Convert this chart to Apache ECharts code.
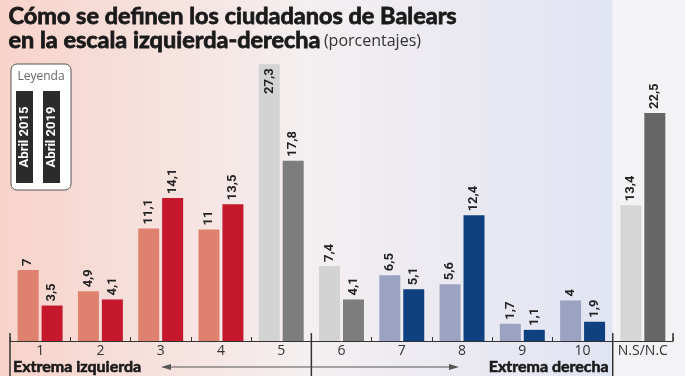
<!DOCTYPE html>
<html>
<head>
<meta charset="utf-8">
<script src="https://cdn.jsdelivr.net/npm/echarts@6/dist/echarts.min.js"></script>
<style>
  html, body { margin: 0; padding: 0; }
  #main { width: 685px; height: 376px; }
</style>
</head>
<body>
<div id="main"></div>
<script>
var categories = ['1', '2', '3', '4', '5', '6', '7', '8', '9', '10', 'N.S/N.C'];
var abril2015 = [7, 4.9, 11.1, 11, 27.3, 7.4, 6.5, 5.6, 1.7, 4, 13.4];
var abril2019 = [3.5, 4.1, 14.1, 13.5, 17.8, 4.1, 5.1, 12.4, 1.1, 1.9, 22.5];

// colores por grupo (izquierda / centro / derecha / ns)
var colors2015 = ['#de826f', '#de826f', '#de826f', '#de826f', '#d3d3d3', '#d3d3d3',
                  '#9ca2c1', '#9ca2c1', '#9ca2c1', '#9ca2c1', '#d6d6d6'];
var colors2019 = ['#c5182c', '#c5182c', '#c5182c', '#c5182c', '#7d7d7d', '#7d7d7d',
                  '#0f4080', '#0f4080', '#0f4080', '#0f4080', '#666666'];

var fmt = function (p) { return String(p.value).replace('.', ','); };

function items(values, colors) {
    return values.map(function (v, i) {
        var it = { value: v, itemStyle: { color: colors[i] } };
        if (v > 25) {
            it.label = { position: 'insideTop', align: 'right', distance: 4 };
        }
        return it;
    });
}

var labelStyle = {
    show: true,
    position: 'top',
    rotate: 90,
    align: 'left',
    verticalAlign: 'middle',
    distance: 4,
    fontFamily: 'Roboto',
    fontWeight: 'bold',
    fontSize: 13,
    color: '#222',
    formatter: fmt
};

var heavy = { fontFamily: 'Lato', fontWeight: 'bold', fill: '#1a1a1a', stroke: '#1a1a1a', lineWidth: 0.8 };

var dom = document.getElementById('main');
var myChart = echarts.init(dom);

var option = {
    animation: false,
    grid: { left: 10, right: 12, top: 37, bottom: 35 },
    xAxis: {
        type: 'category',
        data: categories,
        axisLine: { lineStyle: { color: '#333', width: 1 } },
        axisTick: { show: true, inside: true, length: 4, lineStyle: { color: '#333' } },
        axisLabel: { interval: 0, color: '#333', fontSize: 14, fontFamily: 'Open Sans', margin: 3 }
    },
    yAxis: { type: 'value', min: 0, max: 30, show: false },
    series: [
        {
            name: 'Abril 2015', type: 'bar', barWidth: 21, barGap: '14%',
            data: items(abril2015, colors2015), label: labelStyle
        },
        {
            name: 'Abril 2019', type: 'bar', barWidth: 21,
            data: items(abril2019, colors2019), label: labelStyle
        }
    ]
};
myChart.setOption(option);

// separadores y flechas a partir del eje
var c0 = myChart.convertToPixel({ xAxisIndex: 0 }, 0);
var c1 = myChart.convertToPixel({ xAxisIndex: 0 }, 1);
var band = c1 - c0;
function edge(i) { return c0 - band / 2 + i * band; }
var xL = edge(0), xM = edge(5), xR = edge(10);
var baseY = myChart.convertToPixel({ yAxisIndex: 0 }, 0);

var graphic = [
    { type: 'rect', z: -10, silent: true, shape: { x: 0, y: 0, width: xR, height: 376 },
      style: { fill: new echarts.graphic.LinearGradient(0, 0, 1, 0, [
          { offset: 0, color: '#f8d3ca' },
          { offset: 0.5, color: '#f4eff0' },
          { offset: 1, color: '#e1e4f3' }]) } },
    { type: 'rect', z: -10, silent: true, shape: { x: xR, y: 0, width: 685 - xR, height: 376 },
      style: { fill: '#f3f3f5' } },
    { type: 'text', left: 8, top: 4, style: Object.assign({ text: 'Cómo se definen los ciudadanos de Balears',
      fontSize: 23.5 }, heavy) },
    { type: 'text', left: 8, top: 28, style: { rich: {
        b: Object.assign({ fontSize: 23.5 }, heavy),
        n: { fontFamily: 'Open Sans', fontSize: 16, fill: '#333', padding: [3, 0, 0, 0] } },
      text: '{b|en la escala izquierda-derecha} {n|(porcentajes)}' } },
    // leyenda
    { type: 'rect', shape: { x: 11, y: 64, width: 60, height: 126, r: 6 },
      style: { fill: '#fff', stroke: '#555', lineWidth: 1 } },
    { type: 'text', x: 41, y: 77, style: { text: 'Leyenda', fontFamily: 'Open Sans', fontSize: 12,
      fill: '#666', align: 'center', verticalAlign: 'middle' } },
    { type: 'rect', shape: { x: 16, y: 91, width: 17, height: 92 }, style: { fill: '#2b2b2b' } },
    { type: 'rect', shape: { x: 43, y: 91, width: 17, height: 92 }, style: { fill: '#2b2b2b' } },
    { type: 'text', x: 25, y: 137, rotation: Math.PI / 2, style: { text: 'Abril 2015', fontFamily: 'Roboto',
      fontWeight: 'bold', fontSize: 13, fill: '#fff', align: 'center', verticalAlign: 'middle' } },
    { type: 'text', x: 52, y: 137, rotation: Math.PI / 2, style: { text: 'Abril 2019', fontFamily: 'Roboto',
      fontWeight: 'bold', fontSize: 13, fill: '#fff', align: 'center', verticalAlign: 'middle' } },
    // separadores
    { type: 'line', shape: { x1: xL, y1: baseY - 8, x2: xL, y2: 376 }, style: { stroke: '#333', lineWidth: 1.5 } },
    { type: 'line', shape: { x1: xM, y1: baseY - 8, x2: xM, y2: 376 }, style: { stroke: '#333', lineWidth: 1.5 } },
    { type: 'line', shape: { x1: xR, y1: baseY - 8, x2: xR, y2: 376 }, style: { stroke: '#333', lineWidth: 1.5 } },
    { type: 'line', shape: { x1: edge(11), y1: baseY - 8, x2: edge(11), y2: baseY }, style: { stroke: '#333', lineWidth: 1.5 } },
    // textos inferiores
    { type: 'text', x: xL + 3, y: 367, style: Object.assign({ text: 'Extrema izquierda', fontSize: 16,
      verticalAlign: 'middle', lineWidth: 0.6 }, { fontFamily: 'Lato', fontWeight: 'bold', fill: '#1a1a1a', stroke: '#1a1a1a' }) },
    { type: 'text', x: xR - 4, y: 367, style: Object.assign({ text: 'Extrema derecha', fontSize: 16,
      align: 'right', verticalAlign: 'middle', lineWidth: 0.6 }, { fontFamily: 'Lato', fontWeight: 'bold', fill: '#1a1a1a', stroke: '#1a1a1a' }) },
    // flechas
    { type: 'line', shape: { x1: 168, y1: 367, x2: xM, y2: 367 }, style: { stroke: '#555', lineWidth: 1 } },
    { type: 'polygon', shape: { points: [[161, 367], [171, 364], [171, 370]] }, style: { fill: '#555' } },
    { type: 'line', shape: { x1: xM, y1: 367, x2: 452, y2: 367 }, style: { stroke: '#555', lineWidth: 1 } },
    { type: 'polygon', shape: { points: [[459, 367], [449, 364], [449, 370]] }, style: { fill: '#555' } }
];
myChart.setOption({ graphic: graphic });
</script>
</body>
</html>
